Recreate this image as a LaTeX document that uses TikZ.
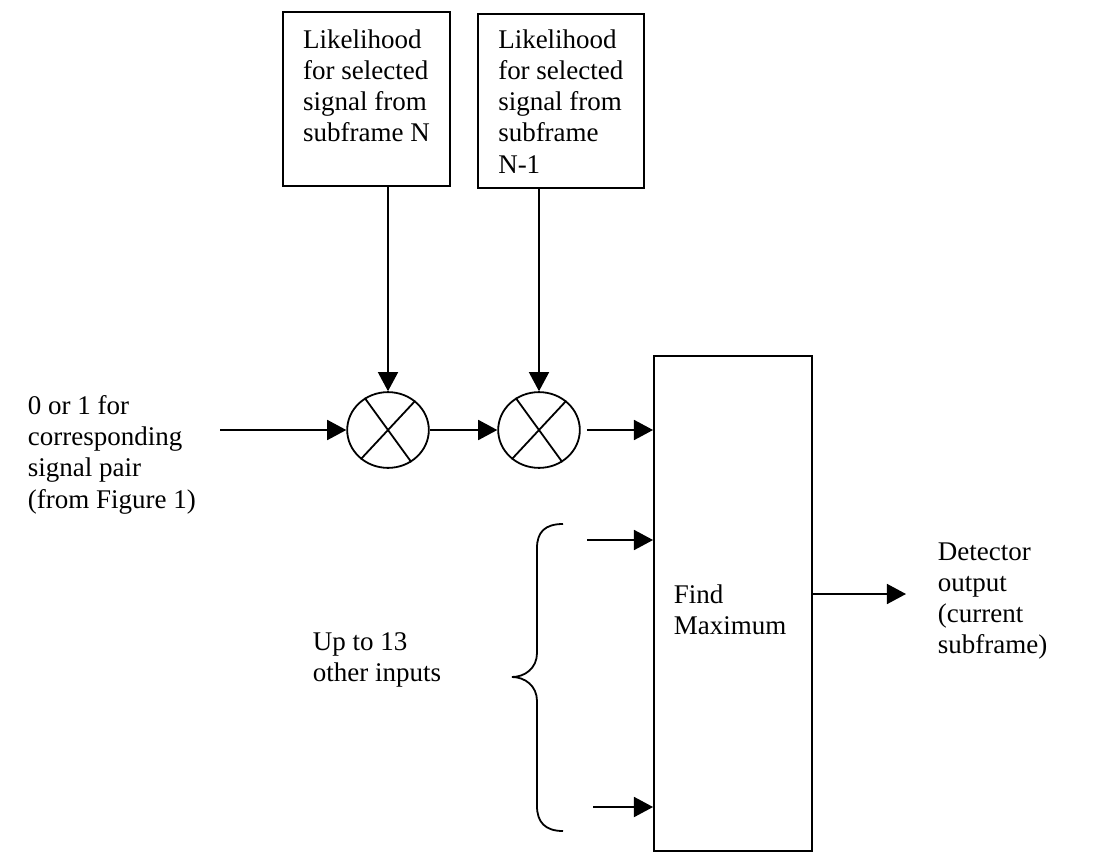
\documentclass[tikz,border=0pt]{standalone}
\usepackage{fontspec}
\setmainfont{Liberation Serif}
\usetikzlibrary{arrows.meta,positioning,shapes.geometric}

\begin{document}
\begin{tikzpicture}[
    x=0.4447pt, y=-0.4447pt,
    >={Triangle[length=8.5pt,width=8.9pt]},
    line width=0.8pt,
    font=\fontsize{12}{13.8}\selectfont,
    block/.style={
		rectangle,
		draw=black,
		inner sep=0pt,
		minimum width=74.3pt,
		minimum height=77.4pt
	},
	mult/.style={
		ellipse,
		draw=black,
		inner sep=0pt,
		minimum width=36.3pt,
		minimum height=33.7pt
	},
	txt/.style={
		anchor=north west,
		inner sep=0pt,
		align=left
	}
  ]
  \useasboundingbox (0,0) rectangle (1096,852);
    % We start by placing the blocks

  \node [block] (likeN) at (366.5,99) {};
  \node [txt, xshift=9pt, yshift=-7.7pt] at (likeN.north west)
 {Likelihood\\ for selected\\ signal from\\ subframe N};

  \node [block, minimum width=73.8pt] (likeNm1) at (561,101) {};
  \node [txt, xshift=9pt, yshift=-7.2pt] at (likeNm1.north west)
 {Likelihood\\ for selected\\ signal from\\ subframe\\ N-1};

  \node [mult] (mult1) at (388,430) {};
  \node [mult] (mult2) at (539,430) {};

  \node [block, minimum width=70.3pt, minimum height=220.1pt] (findmax) at (733,603.5) {};
  \node [txt, xshift=8.9pt, yshift=-101.5pt] at (findmax.north west)
 {Find\\ Maximum};

  \coordinate (in0) at (220,430);
  \coordinate (othA) at (587,540);
  \coordinate (othB) at (593,807);
  \coordinate (detout) at (906,594);

  \node [txt] (inlabel) at (27,395)
 {0 or 1 for\\ corresponding\\ signal pair\\ (from Figure 1)};
  \node [txt] (othlabel) at (312,632)
 {Up to 13\\ other inputs};
  \node [txt] (outlabel) at (937,542)
 {Detector\\ output\\ (current\\ subframe)};

  % crosses in the multipliers
  \foreach \m in {mult1,mult2} {
   \draw (\m.126) -- (\m.-54);
   \draw (\m.47) -- (\m.227);
  }

 \draw [->] (mult1 |- likeN.south) -- (mult1.north);
 \draw [->] (mult2 |- likeNm1.south) -- (mult2.north);
 \draw [->] (in0) -- (mult1);
 \draw [->] (mult1) -- (mult2);
 \draw [->, shorten <=2.7pt] (mult2.east) -- (mult2.east -| findmax.west);
 \draw [->] (othA) -- (othA -| findmax.west);
 \draw [->] (othB) -- (othB -| findmax.west);
 \draw [->] (findmax.east |- detout) -- (detout);

  % brace
 \draw (563,524) .. controls (545,524) and (537,532) .. (537,548) -- (537,653)
   .. controls (537,668) and (525,677) .. (512,677)
   .. controls (525,677) and (537,686) .. (537,701) -- (537,806)
   .. controls (537,822) and (545,831) .. (563,831);

\end{tikzpicture}
\end{document}
